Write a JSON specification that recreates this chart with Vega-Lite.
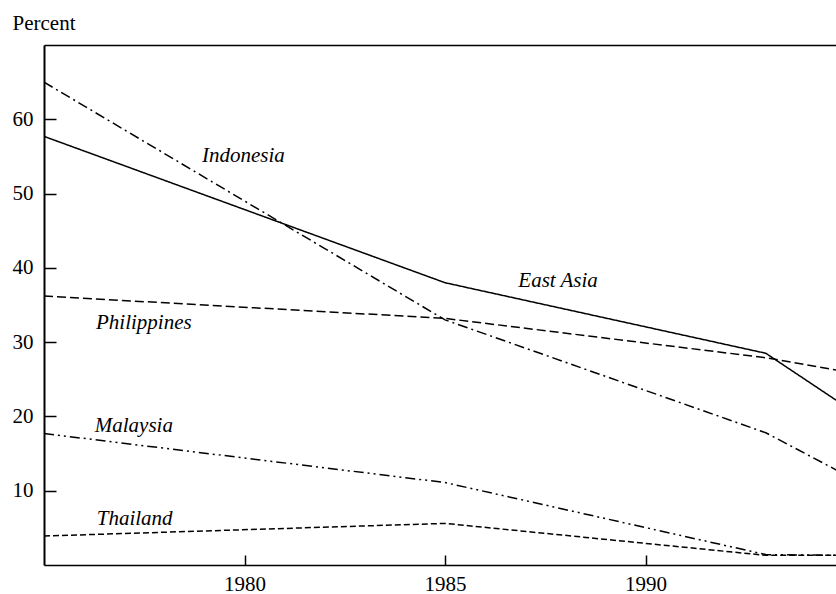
{
  "$schema": "https://vega.github.io/schema/vega-lite/v6.json",
  "width": 792,
  "height": 520,
  "autosize": {"type": "none"},
  "padding": {"left": 44, "top": 45, "right": 0, "bottom": 29},
  "background": "white",
  "config": {
    "view": {"stroke": null},
    "font": "Liberation Serif",
    "axis": {
      "grid": false,
      "domainColor": "black",
      "domainWidth": 1.5,
      "tickColor": "black",
      "tickWidth": 1.5,
      "labelColor": "black",
      "labelFont": "Liberation Serif",
      "labelFontSize": 21,
      "titleFont": "Liberation Serif",
      "titleColor": "black"
    }
  },
  "datasets": {
    "lines": [
      {"country": "East Asia", "year": 1975, "value": 57.7},
      {"country": "East Asia", "year": 1985, "value": 38.0},
      {"country": "East Asia", "year": 1993, "value": 28.5},
      {"country": "East Asia", "year": 1995, "value": 21.3},
      {"country": "Indonesia", "year": 1975, "value": 65.0},
      {"country": "Indonesia", "year": 1985, "value": 33.0},
      {"country": "Indonesia", "year": 1993, "value": 17.8},
      {"country": "Indonesia", "year": 1995, "value": 12.1},
      {"country": "Philippines", "year": 1975, "value": 36.2},
      {"country": "Philippines", "year": 1985, "value": 33.2},
      {"country": "Philippines", "year": 1993, "value": 27.9},
      {"country": "Philippines", "year": 1995, "value": 26.0},
      {"country": "Malaysia", "year": 1975, "value": 17.7},
      {"country": "Malaysia", "year": 1985, "value": 11.1},
      {"country": "Malaysia", "year": 1993, "value": 1.4},
      {"country": "Malaysia", "year": 1995, "value": 1.3},
      {"country": "Thailand", "year": 1975, "value": 3.9},
      {"country": "Thailand", "year": 1985, "value": 5.6},
      {"country": "Thailand", "year": 1993, "value": 1.3},
      {"country": "Thailand", "year": 1995, "value": 1.3}
    ],
    "labels": [
      {"label": "Indonesia", "year": 1979.97, "value": 55.0},
      {"label": "East Asia", "year": 1987.82, "value": 38.2},
      {"label": "Philippines", "year": 1977.49, "value": 32.6},
      {"label": "Malaysia", "year": 1977.24, "value": 18.7},
      {"label": "Thailand", "year": 1977.26, "value": 6.2}
    ]
  },
  "layer": [
    {
      "data": {"name": "lines"},
      "mark": {"type": "line", "color": "black", "strokeWidth": 1.5, "clip": true},
      "encoding": {
        "x": {
          "field": "year", "type": "quantitative",
          "scale": {"domain": [1975, 1994.75], "nice": false, "zero": false},
          "axis": {"values": [1980, 1985, 1990], "format": "d", "tickSize": -10, "labelPadding": 18, "title": null, "labelFlush": false}
        },
        "y": {
          "field": "value", "type": "quantitative",
          "scale": {"domain": [0, 70], "nice": false},
          "axis": {
            "values": [10, 20, 30, 40, 50, 60],
            "tickSize": -12,
            "labelPadding": 23,
            "domainWidth": 2,
            "title": "Percent",
            "titleAngle": 0,
            "titleAlign": "left",
            "titleBaseline": "alphabetic",
            "titleFontWeight": "normal",
            "titleFontSize": 21,
            "titleX": -32,
            "titleY": -16
          }
        },
        "strokeDash": {
          "field": "country", "type": "nominal",
          "scale": {
            "domain": ["East Asia", "Indonesia", "Philippines", "Malaysia", "Thailand"],
            "range": [[1, 0], [10, 4, 2, 4], [9, 4], [10, 4, 2, 4, 2, 4], [6, 3]]
          },
          "legend": null
        },
        "detail": {"field": "country"}
      }
    },
    {
      "data": {"name": "labels"},
      "mark": {"type": "text", "font": "Liberation Serif", "fontStyle": "italic", "fontSize": 21, "color": "black", "align": "center", "baseline": "middle"},
      "encoding": {
        "x": {
          "field": "year", "type": "quantitative",
          "axis": {"orient": "top", "ticks": false, "labels": false, "title": null, "domainWidth": 1.5}
        },
        "y": {"field": "value", "type": "quantitative", "title": "Percent"},
        "text": {"field": "label"}
      }
    }
  ],
  "resolve": {"axis": {"x": "independent"}}
}
